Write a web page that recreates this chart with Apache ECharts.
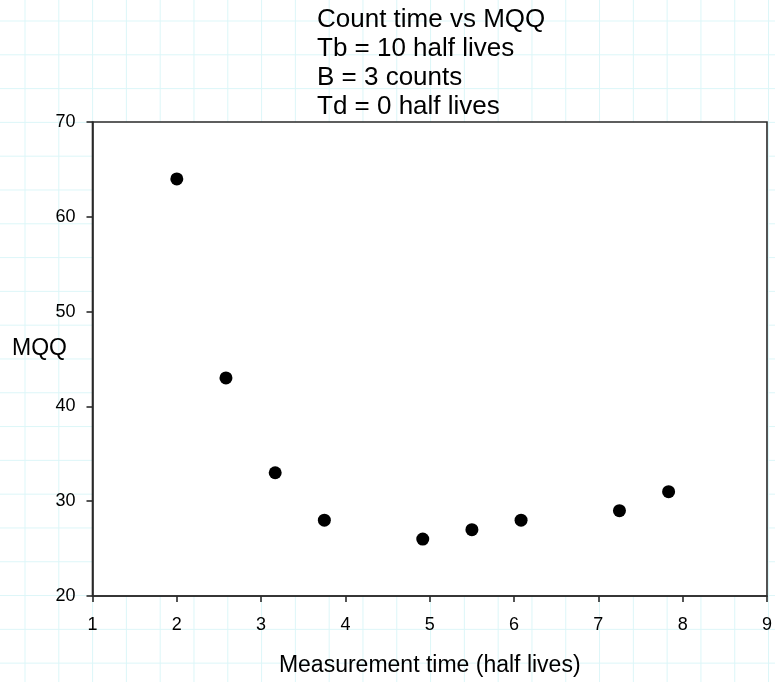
<!DOCTYPE html>
<html>
<head>
<meta charset="utf-8">
<script src="https://cdn.jsdelivr.net/npm/echarts@6/dist/echarts.min.js"></script>
<style>
  html, body { margin: 0; padding: 0; background: #fff; }
  /* light graph-paper backdrop behind the chart */
  #chart {
    width: 775px; height: 682px;
    background-color: #fff;
    background-image:
      linear-gradient(to right, #dcf6f8 1px, transparent 1px),
      linear-gradient(to bottom, #dcf6f8 1px, transparent 1px);
    background-size: 33.8px 33.8px;
    background-position: 24.5px 20.5px;
  }
</style>
</head>
<body>
<div id="chart"></div>
<script>
// Measurement time (half lives) and the resulting MQQ
const measurementTime = [2, 2.583, 3.167, 3.75, 4.917, 5.5, 6.083, 7.25, 7.833];
const mqq = [64, 43, 33, 28, 26, 27, 28, 29, 31];

const titleLines = [
  'Count time vs MQQ',
  'Tb = 10 half lives',
  'B = 3 counts',
  'Td = 0 half lives'
];
const xAxisTitle = 'Measurement time (half lives)';
const yAxisTitle = 'MQQ';

const fontFamily = '"Liberation Sans", Arial, sans-serif';
const axisColor = '#2a2a2a';

const chart = echarts.init(document.getElementById('chart'), null, { renderer: 'canvas' });

chart.setOption({
  backgroundColor: 'transparent',
  animation: false,
  title: [
    {
      text: titleLines.join('\n'),
      left: 317,
      top: 5,
      padding: 0,
      textStyle: {
        fontFamily, fontSize: 26, lineHeight: 29,
        fontWeight: 'normal', color: '#000'
      }
    },
    {
      text: yAxisTitle,
      left: 12,
      top: 337,
      padding: 0,
      textStyle: {
        fontFamily, fontSize: 23, lineHeight: 23,
        fontWeight: 'normal', color: '#000'
      }
    }
  ],
  grid: {
    left: 92.5, right: 7, top: 122, bottom: 85,
    show: true,
    backgroundColor: '#fff',
    borderColor: axisColor,
    borderWidth: 1.6
  },
  xAxis: {
    type: 'value',
    min: 1, max: 9, interval: 1,
    name: xAxisTitle,
    nameLocation: 'middle',
    nameGap: 58,
    nameTextStyle: { fontFamily, fontSize: 23, color: '#000' },
    axisLine: { show: true, onZero: false, lineStyle: { color: axisColor, width: 1.6 } },
    axisTick: { show: true, inside: false, length: 6, lineStyle: { color: axisColor, width: 1.6 } },
    axisLabel: { margin: 20, fontFamily, fontSize: 18, color: '#000' },
    splitLine: { show: false }
  },
  yAxis: {
    type: 'value',
    min: 20, max: 70, interval: 10,
    axisLine: { show: true, onZero: false, lineStyle: { color: axisColor, width: 1.6 } },
    axisTick: { show: true, inside: false, length: 6, lineStyle: { color: axisColor, width: 1.6 } },
    axisLabel: { margin: 17, fontFamily, fontSize: 18, color: '#000' },
    splitLine: { show: false }
  },
  series: [
    {
      type: 'scatter',
      data: measurementTime.map((t, i) => [t, mqq[i]]),
      symbol: 'circle',
      symbolSize: 13,
      itemStyle: { color: '#000', opacity: 1 },
      emphasis: { disabled: true }
    }
  ]
});
</script>
</body>
</html>
